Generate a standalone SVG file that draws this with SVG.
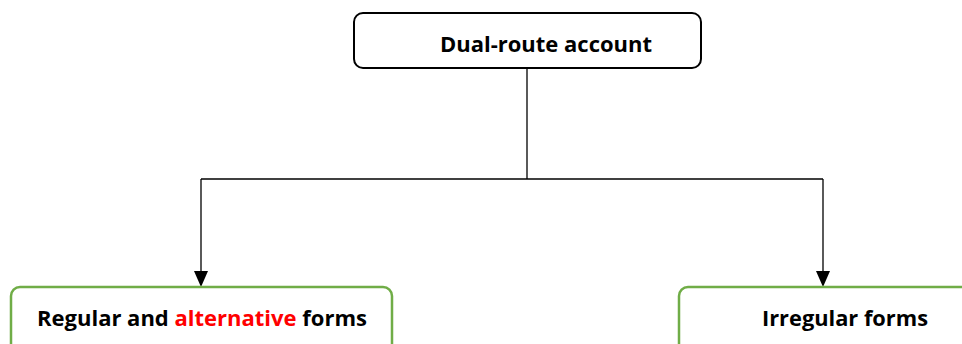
<svg xmlns="http://www.w3.org/2000/svg" width="962" height="344" viewBox="0 0 962 344">
<style>
.t{font-family:"Open Sans","Liberation Sans",sans-serif;font-weight:bold;font-size:22px;fill:#000}
.red{fill:#ff0000}
.conn{fill:none;stroke:#000;stroke-width:1.3}
.head{fill:#000}
.top{fill:#fff;stroke:#000;stroke-width:2}
.leaf{fill:#fff;stroke:#70ad47;stroke-width:2.5}
</style>
<g id="connectors">
<path class="conn" d="M527,68 V179"/>
<path class="conn" d="M201,179 H823"/>
<path class="conn" d="M201,179 V273"/>
<path class="conn" d="M823,179 V273"/>
<path class="head" d="M194,271 L208,271 L201,287 Z"/>
<path class="head" d="M816,271 L830,271 L823,287 Z"/>
</g>
<g id="node-dual">
<rect class="top" x="354" y="13" width="347" height="55" rx="9"/>
<text class="t" x="440" y="52" textLength="212" lengthAdjust="spacingAndGlyphs">Dual-route account</text>
</g>
<g id="node-regular">
<rect class="leaf" x="11" y="287" width="381" height="80" rx="9"/>
<text class="t" x="37" y="326" textLength="330" lengthAdjust="spacingAndGlyphs">Regular and <tspan class="red">alternative</tspan> forms</text>
</g>
<g id="node-irregular">
<rect class="leaf" x="679" y="287" width="320" height="80" rx="9"/>
<text class="t" x="762" y="326" textLength="166" lengthAdjust="spacingAndGlyphs">Irregular forms</text>
</g>
</svg>
